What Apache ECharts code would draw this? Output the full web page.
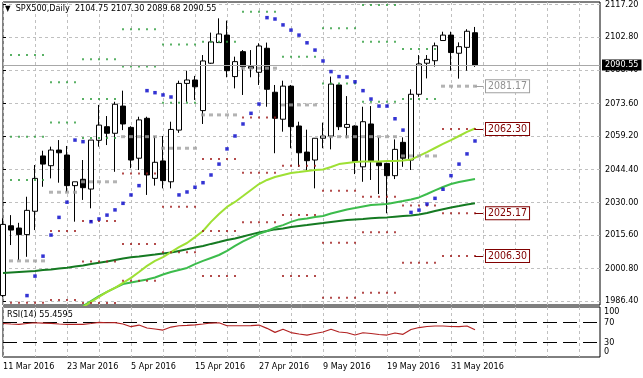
<!DOCTYPE html>
<html>
<head>
<meta charset="utf-8">
<script src="https://cdn.jsdelivr.net/npm/echarts@6/dist/echarts.min.js"></script>
<style>
html, body { margin: 0; padding: 0; background: #fff; }
#main { width: 643px; height: 378px; }
</style>
</head>
<body>
<div id="main"></div>
<script>
// SPX500 daily bars, 11 Mar - 3 Jun 2016
var dates = ['11 Mar 2016', '14 Mar 2016', '15 Mar 2016', '16 Mar 2016', '17 Mar 2016', '18 Mar 2016',
  '21 Mar 2016', '22 Mar 2016', '23 Mar 2016', '24 Mar 2016', '28 Mar 2016', '29 Mar 2016', '30 Mar 2016',
  '31 Mar 2016', '1 Apr 2016', '4 Apr 2016', '5 Apr 2016', '6 Apr 2016', '7 Apr 2016', '8 Apr 2016',
  '11 Apr 2016', '12 Apr 2016', '13 Apr 2016', '14 Apr 2016', '15 Apr 2016', '18 Apr 2016', '19 Apr 2016',
  '20 Apr 2016', '21 Apr 2016', '22 Apr 2016', '25 Apr 2016', '26 Apr 2016', '27 Apr 2016', '28 Apr 2016',
  '29 Apr 2016', '2 May 2016', '3 May 2016', '4 May 2016', '5 May 2016', '6 May 2016', '9 May 2016',
  '10 May 2016', '11 May 2016', '12 May 2016', '13 May 2016', '16 May 2016', '17 May 2016', '18 May 2016',
  '19 May 2016', '20 May 2016', '23 May 2016', '24 May 2016', '25 May 2016', '26 May 2016', '27 May 2016',
  '30 May 2016', '31 May 2016', '1 Jun 2016', '2 Jun 2016', '3 Jun 2016'];

var opens = [1988.8, 2019.6, 2018.6, 2015.7, 2026.0, 2050.4, 2046.1, 2053.0, 2050.8, 2037.3,
  2040.1, 2035.8, 2057.3, 2063.3, 2060.4, 2072.4, 2063.0, 2049.4, 2067.0, 2040.5,
  2048.2, 2039.0, 2061.8, 2082.4, 2083.9, 2070.4, 2091.3, 2100.4, 2103.7, 2085.4,
  2096.4, 2089.8, 2087.3, 2097.9, 2078.5, 2066.6, 2081.2, 2063.6, 2052.1, 2048.6,
  2058.2, 2059.2, 2081.7, 2063.0, 2063.6, 2045.6, 2064.5, 2047.4, 2047.1, 2041.7,
  2056.4, 2048.6, 2077.6, 2091.3, 2092.4, 2101.3, 2103.7, 2095.7, 2098.3, 2104.75];
var highs = [2022.9, 2024.3, 2020.9, 2032.4, 2046.4, 2052.7, 2054.5, 2057.4, 2054.8, 2039.0,
  2048.6, 2057.4, 2072.9, 2068.0, 2074.3, 2079.2, 2063.5, 2067.7, 2067.7, 2059.2,
  2059.2, 2065.5, 2083.6, 2088.0, 2085.7, 2094.9, 2104.8, 2111.1, 2110.1, 2094.2,
  2097.1, 2097.1, 2100.1, 2100.4, 2081.7, 2083.6, 2081.7, 2065.5, 2062.0, 2058.2,
  2065.1, 2085.4, 2081.9, 2076.8, 2063.9, 2072.1, 2072.4, 2058.6, 2047.4, 2057.7,
  2058.6, 2079.8, 2094.9, 2094.9, 2100.4, 2105.2, 2105.2, 2100.5, 2106.3, 2107.30];
var lows = [1988.2, 2011.1, 2004.5, 2005.9, 2017.7, 2036.8, 2040.5, 2038.6, 2034.4, 2021.4,
  2031.0, 2027.3, 2054.5, 2055.2, 2043.4, 2061.8, 2045.0, 2044.2, 2033.2, 2037.3,
  2036.1, 2036.1, 2060.6, 2074.3, 2075.1, 2064.5, 2091.0, 2100.4, 2085.1, 2080.2,
  2077.3, 2085.1, 2081.7, 2072.1, 2051.6, 2061.1, 2053.8, 2045.6, 2044.0, 2036.1,
  2053.8, 2053.3, 2061.8, 2058.2, 2042.4, 2039.0, 2039.8, 2033.6, 2025.1, 2040.2,
  2045.6, 2044.2, 2076.5, 2084.6, 2089.8, 2101.3, 2088.0, 2084.5, 2088.0, 2089.68];
var closes = [2020.2, 2017.7, 2015.7, 2026.4, 2040.5, 2046.8, 2053.0, 2051.8, 2037.3, 2039.0,
  2036.4, 2057.4, 2064.0, 2060.4, 2073.2, 2064.5, 2048.6, 2066.3, 2042.0, 2047.6,
  2039.5, 2062.1, 2082.4, 2083.9, 2080.9, 2092.3, 2100.7, 2104.2, 2088.0, 2092.0,
  2089.8, 2089.1, 2098.9, 2079.8, 2067.0, 2081.2, 2063.3, 2051.8, 2048.3, 2058.2,
  2059.2, 2082.1, 2063.3, 2064.3, 2047.9, 2065.5, 2048.2, 2046.1, 2041.7, 2053.3,
  2049.4, 2077.6, 2091.0, 2093.0, 2099.0, 2103.7, 2096.0, 2098.6, 2105.4, 2090.55];

// parabolic SAR
var sar = [null, null, null, 1988.8, 1997.4, 2006.2, 2015.5, 2023.3, 2030.0, 2057.4,
  2056.7, 2021.4, 2022.6, 2024.3, 2026.6, 2029.5, 2033.2, 2037.3, 2079.2, 2078.3,
  2077.3, 2076.4, 2033.2, 2034.5, 2036.6, 2038.6, 2042.0, 2046.8, 2053.5, 2059.2,
  2064.5, 2069.2, 2073.3, 2111.4, 2110.8, 2108.2, 2105.9, 2103.7, 2100.3, 2097.1,
  2092.3, 2087.6, 2085.4, 2085.2, 2083.1, 2079.2, 2075.5, 2072.4, 2072.4, 2066.8,
  2061.8, 2025.5, 2026.5, 2029.2, 2031.7, 2035.7, 2041.7, 2046.8, 2051.3, 2057.0];

// moving averages
var maFast = [null, null, null, null, null, null, null, null, null, null,
  1983.8, 1986.0, 1988.2, 1990.4, 1992.2, 1994.4, 1996.6, 1999.2, 2001.9, 2004.1,
  2005.8, 2008.0, 2010.2, 2012.0, 2014.6, 2017.3, 2021.3, 2024.8, 2027.9, 2030.1,
  2032.7, 2035.4, 2038.0, 2039.8, 2041.1, 2042.0, 2042.9, 2043.3, 2043.8, 2044.2,
  2044.4, 2045.5, 2046.8, 2047.3, 2047.7, 2048.0, 2048.0, 2048.0, 2048.2, 2048.2,
  2048.4, 2048.8, 2050.4, 2052.1, 2053.9, 2055.7, 2057.4, 2059.2, 2061.0, 2062.5];
var maMid = [null, null, null, null, null, null, null, null, null, null,
  1984.2, 1986.4, 1988.6, 1990.4, 1992.2, 1993.9, 1994.6, 1995.2, 1995.9, 1996.8,
  1998.1, 1999.2, 2000.1, 2001.0, 2002.7, 2004.1, 2005.4, 2006.7, 2008.5, 2010.7,
  2012.7, 2014.4, 2016.0, 2017.3, 2018.8, 2019.9, 2021.3, 2022.4, 2022.8, 2023.5,
  2023.9, 2025.0, 2025.9, 2026.8, 2027.4, 2028.1, 2028.8, 2029.0, 2029.2, 2029.9,
  2030.5, 2031.2, 2032.1, 2033.6, 2035.2, 2036.7, 2038.0, 2038.9, 2039.6, 2040.2];
var maSlow = [1998.8, 1999.0, 1999.2, 1999.4, 1999.6, 2000.1, 2000.3, 2000.7, 2001.1, 2001.6,
  2002.1, 2002.7, 2003.3, 2003.8, 2004.5, 2005.2, 2005.7, 2006.0, 2006.5, 2006.9,
  2007.4, 2007.8, 2008.5, 2009.2, 2010.0, 2010.7, 2011.6, 2012.4, 2013.3, 2014.0,
  2014.9, 2015.8, 2016.6, 2017.3, 2018.0, 2018.4, 2019.1, 2019.5, 2019.9, 2020.4,
  2020.8, 2021.3, 2021.7, 2022.1, 2022.4, 2022.6, 2022.9, 2023.1, 2023.3, 2023.6,
  2023.9, 2024.1, 2024.6, 2025.2, 2026.1, 2026.9, 2027.7, 2028.3, 2029.0, 2029.5];

// RSI(14)
var rsi = [68.3, 67.3, 66.7, 68.3, 69.9, 69.3, 68.7, 67.3, 66.7, 66.7,
  66.7, 68.3, 70.7, 69.9, 70.3, 67.3, 61.8, 65.2, 59.1, 57.1,
  55.0, 61.1, 63.8, 64.6, 65.6, 67.3, 69.3, 69.9, 63.8, 63.8,
  63.8, 64.2, 65.2, 58.5, 50.3, 56.5, 49.9, 46.9, 44.8, 47.9,
  51.0, 56.5, 51.0, 49.5, 44.8, 49.5, 47.9, 45.9, 44.8, 48.9,
  46.3, 56.1, 60.1, 62.2, 63.2, 63.2, 62.2, 61.8, 63.2, 55.4595];

// weekly pivot levels (first bar index and bar count of each week)
var weekStart = [1, 6, 10, 15, 20, 25, 30, 35, 40, 45, 50, 55];
var weekBars = [5, 4, 5, 5, 5, 5, 5, 5, 5, 5, 5, 5];
var r3 = [2094.9, null, 2093.0, null, null, null, null, null, null, 2117.0, null, null];
var r2 = [2058.9, 2082.9, 2075.5, 2106.3, 2099.6, null, null, null, 2106.7, 2100.8, 2097.6, null];
var r1 = [2039.8, 2065.1, 2058.3, 2089.8, 2073.9, 2100.8, 2114.0, 2094.2, 2082.4, 2074.3, 2075.5, null];
var pp = [2004.1, 2034.4, 2039.0, 2058.9, 2053.8, 2068.5, 2089.1, 2072.9, 2058.9, 2058.9, 2050.4, 2081.17];
var s1 = [1985.6, 2017.3, 2021.7, 2042.7, 2028.0, 2049.1, 2067.4, 2046.1, 2035.1, 2032.4, 2028.5, 2062.30];
var s2 = [null, 1986.9, 2003.8, 2011.6, 2007.9, 2017.3, 2043.0, 2024.4, 2012.1, 2016.7, 2003.3, 2025.17];
var s3 = [null, null, 1985.5, 1995.4, null, 1997.4, 2021.1, 1997.4, 1987.9, 1990.1, null, 2006.30];

var priceTicks = [1986.40, 2000.80, 2015.60, 2030.00, 2044.40, 2059.20, 2073.60, 2088.40, 2102.80, 2117.20];
var rsiTicks = [0, 30, 70, 100];
var rsiLevels = [30, 70];

var FONT = "'DejaVu Sans Condensed', 'Liberation Sans', Arial, sans-serif";
var last = dates.length - 1;

function pairs(arr) {
  var out = [];
  arr.forEach(function (v, i) { if (v != null) out.push([i, v]); });
  return out;
}

function weekly(levels) {
  var out = [];
  levels.forEach(function (v, w) {
    if (v == null) return;
    for (var j = 0; j < weekBars[w]; j++) out.push([weekStart[w] + j, v]);
  });
  return out;
}

function pivotSeries(name, levels, color, size, tagColor, tagText) {
  var s = {
    name: name, type: 'scatter', symbol: 'rect', symbolSize: size,
    itemStyle: { color: color }, data: weekly(levels), z: 4, silent: true
  };
  var v = levels[levels.length - 1];
  if (v != null && tagColor) {
    s.markLine = {
      symbol: 'none', silent: true, animation: false,
      lineStyle: { color: tagColor, type: 'solid', width: 1 },
      label: {
        position: 'end', distance: 3, formatter: function (p) { return Number(p.value).toFixed(2); },
        color: tagText, backgroundColor: '#fff', borderColor: tagColor, borderWidth: 1,
        padding: [1, 2, 0, 2], fontSize: 10.5, fontFamily: FONT
      },
      data: [[{ coord: [last, v], value: v }, { coord: [last + 1, v] }]]
    };
  }
  return s;
}

var chart = echarts.init(document.getElementById('main'));

var xGrid = [];
for (var k = 0; k <= 72; k += 4) xGrid.push(k);
var xLabels = [];
for (var k2 = 0; k2 <= last; k2 += 8) xLabels.push(k2);

var dash = { color: '#c0c0c0', type: [3, 3], width: 1 };

chart.setOption({
  animation: false,
  backgroundColor: '#fff',
  title: [{
    left: 5, top: 4, padding: 0,
    text: '{tri|▼}  SPX500,Daily  ' + [opens[last], highs[last], lows[last], closes[last]].map(function (v) { return v.toFixed(2); }).join(' '),
    textStyle: { fontSize: 9, fontWeight: 'normal', color: '#000', fontFamily: FONT, rich: { tri: { fontSize: 8, color: '#000' } } }
  }, {
    left: 7, top: 310, padding: 0,
    text: 'RSI(14) ' + rsi[last].toFixed(4),
    textStyle: { fontSize: 9, fontWeight: 'normal', color: '#000', fontFamily: FONT }
  }],
  grid: [
    { left: 3, right: 43, top: 2, height: 303, show: true, borderColor: '#000', borderWidth: 1, backgroundColor: '#fff' },
    { left: 3, right: 43, top: 307, height: 50, show: true, borderColor: '#000', borderWidth: 1, backgroundColor: '#fff' }
  ],
  xAxis: [{
    type: 'value', gridIndex: 0, min: 0, max: 74.625,
    axisLine: { show: false }, axisTick: { show: false, customValues: xGrid },
    axisLabel: { show: false }, splitLine: { show: true, lineStyle: dash }
  }, {
    type: 'value', gridIndex: 1, min: 0, max: 74.625,
    axisLine: { show: false }, axisTick: { show: false, customValues: xGrid },
    axisLabel: {
      customValues: xLabels, align: 'left', margin: 5, fontSize: 9, color: '#000', fontFamily: FONT,
      showMinLabel: true, showMaxLabel: true,
      formatter: function (v) { return dates[Math.round(v)] || ''; }
    },
    splitLine: { show: true, lineStyle: dash }
  }],
  yAxis: [{
    type: 'value', gridIndex: 0, position: 'right', min: 1984.65, max: 2118.3,
    axisLine: { show: false },
    axisTick: { show: true, customValues: priceTicks, length: 3, lineStyle: { color: '#000' } },
    axisLabel: {
      customValues: priceTicks, margin: 5, fontSize: 9, color: '#000', fontFamily: FONT,
      showMinLabel: true, showMaxLabel: true,
      formatter: function (v) { return v.toFixed(2); }
    },
    splitLine: { show: true, lineStyle: dash }
  }, {
    type: 'value', gridIndex: 1, position: 'right', min: 0, max: 102,
    axisLine: { show: false },
    axisTick: { show: false, customValues: rsiLevels },
    axisLabel: {
      customValues: rsiTicks, margin: 4, fontSize: 9, color: '#000', fontFamily: FONT,
      showMinLabel: true, showMaxLabel: true, hideOverlap: false,
      formatter: function (v) {
        if (v === 100) return '{dn|100}';
        if (v === 0) return '{up|0}';
        return String(v);
      },
      rich: {
        dn: { fontSize: 9, color: '#000', fontFamily: FONT, padding: [8, 0, 0, 0] },
        up: { fontSize: 9, color: '#000', fontFamily: FONT, padding: [0, 0, 10, 0] }
      }
    },
    splitLine: { show: true, lineStyle: { color: '#000', type: [14, 6], width: 1 } }
  }],
  series: [{
    name: 'SPX500', type: 'candlestick', xAxisIndex: 0, yAxisIndex: 0, barWidth: 5, z: 2,
    itemStyle: { color: '#fff', color0: '#000', borderColor: '#000', borderColor0: '#000', borderWidth: 1 },
    data: dates.map(function (d, i) { return [i, opens[i], closes[i], lows[i], highs[i]]; }),
    markLine: {
      symbol: 'none', silent: true, animation: false,
      lineStyle: { color: '#a8a8a8', type: 'solid', width: 1 },
      label: {
        position: 'end', distance: 2, color: '#fff', backgroundColor: '#000',
        padding: [1, 3, 1, 3], fontSize: 9, fontFamily: FONT,
        formatter: function (p) { return Number(p.value).toFixed(2); }
      },
      data: [{ yAxis: closes[last] }]
    }
  },
  { name: 'MA slow', type: 'line', showSymbol: false, z: 3, lineStyle: { color: '#157a22', width: 2 }, data: pairs(maSlow) },
  { name: 'MA mid', type: 'line', showSymbol: false, z: 3, lineStyle: { color: '#3cbc4c', width: 2 }, data: pairs(maMid) },
  { name: 'MA fast', type: 'line', showSymbol: false, z: 3, lineStyle: { color: '#9ee034', width: 2 }, data: pairs(maFast) },
  pivotSeries('R3', r3, '#2f9e3f', 2),
  pivotSeries('R2', r2, '#2f9e3f', 2),
  pivotSeries('R1', r1, '#2f9e3f', 2),
  pivotSeries('PP', pp, '#a0a0a0', [4, 3], '#a0a0a0', '#909090'),
  pivotSeries('S1', s1, '#a01e1e', 2, '#800000', '#800000'),
  pivotSeries('S2', s2, '#a01e1e', 2, '#800000', '#800000'),
  pivotSeries('S3', s3, '#a01e1e', 2, '#800000', '#800000'),
  { name: 'SAR', type: 'scatter', symbol: 'rect', symbolSize: 3.5, z: 5, itemStyle: { color: '#0000c8' }, data: pairs(sar) },
  {
    name: 'RSI', type: 'line', xAxisIndex: 1, yAxisIndex: 1, showSymbol: false,
    lineStyle: { color: '#b22222', width: 1.2 }, data: pairs(rsi)
  }]
});
</script>
</body>
</html>
